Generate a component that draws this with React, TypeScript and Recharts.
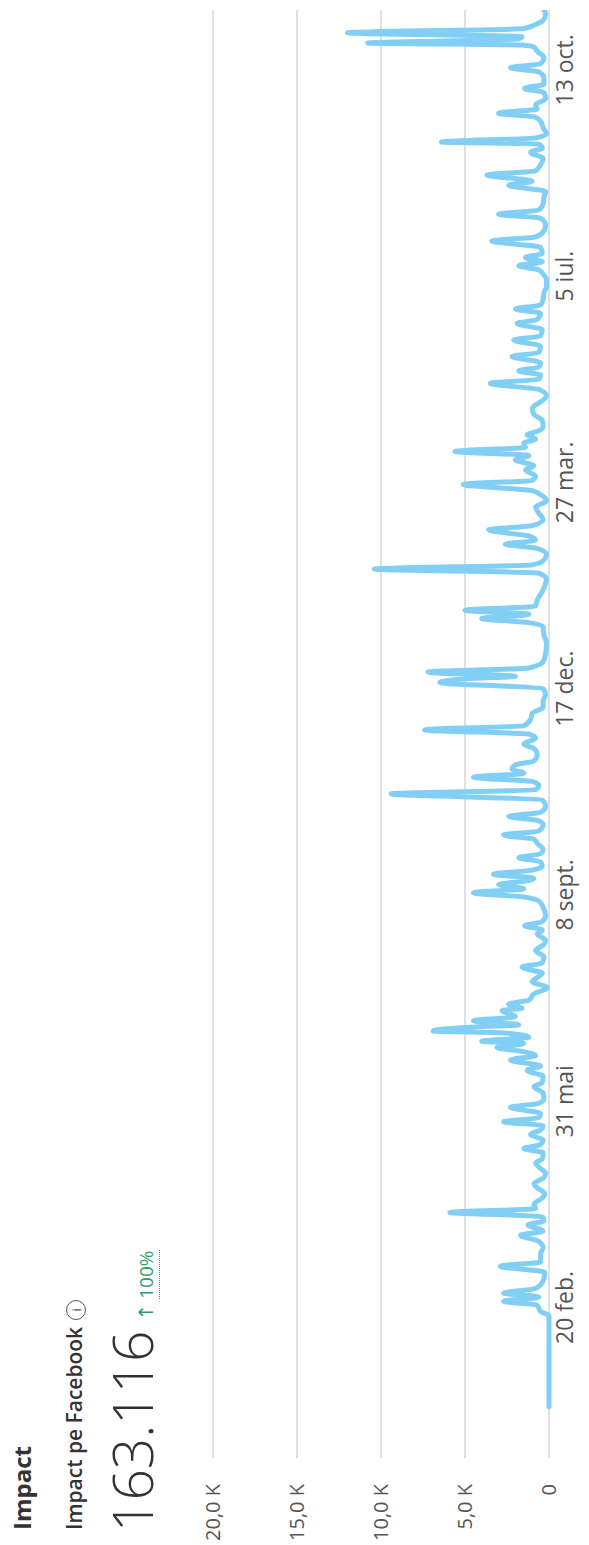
import { LineChart, Line, XAxis, YAxis, CartesianGrid } from 'recharts'

// day 0 = 20 feb.
const tickDays = [0, 100, 200, 300, 400, 500, 600]
const tickLabels = ['20 feb.', '31 mai', '8 sept.', '17 dec.', '27 mar.', '5 iul.', '13 oct.']
const valueTicks = [0, 5000, 10000, 15000, 20000]
const valueLabels = ['0', '5,0 K', '10,0 K', '15,0 K', '20,0 K']

const days = [
  -48, -4, -2, 1, 3, 5, 7, 9, 11, 14, 17, 20, 22, 26, 29, 32, 35, 37, 40, 42,
  44, 46, 48, 50, 53, 55, 58, 60, 63, 65, 68, 70, 72, 75, 77, 79, 81, 84, 86, 88,
  90, 92, 94, 97, 99, 101, 104, 107, 109, 112, 115, 117, 120, 122, 124, 126, 128, 129, 131, 133,
  134, 136, 137, 139, 141, 144, 145, 147, 149, 152, 155, 158, 160, 162, 165, 167, 170, 173, 176, 178,
  181, 183, 185, 187, 190, 194, 197, 199, 201, 203, 205, 207, 208, 210, 212, 214, 216, 218, 220, 222,
  225, 227, 229, 231, 234, 236, 238, 240, 243, 246, 249, 251, 253, 255, 257, 259, 261, 263, 265, 268,
  271, 273, 276, 278, 280, 282, 285, 288, 291, 294, 297, 300, 303, 305, 306, 308, 310, 313, 317, 322,
  326, 330, 332, 334, 336, 338, 340, 343, 347, 350, 353, 356, 358, 360, 362, 365, 368, 370, 372, 374,
  377, 379, 382, 385, 388, 391, 394, 396, 399, 401, 403, 406, 408, 411, 413, 415, 417, 419, 421, 423,
  425, 427, 430, 433, 436, 439, 442, 445, 448, 450, 452, 454, 456, 458, 461, 463, 466, 469, 471, 474,
  477, 479, 482, 484, 486, 489, 492, 495, 498, 501, 503, 505, 507, 509, 511, 514, 517, 519, 522, 525,
  528, 530, 532, 535, 538, 541, 544, 546, 549, 551, 554, 557, 560, 562, 564, 565, 567, 569, 572, 575,
  577, 579, 581, 583, 586, 589, 591, 593, 596, 599, 601, 603, 606, 609, 611, 612, 613, 615, 616, 618,
  620, 622, 624, 627, 629,
]

const impact = [
  0, 0, 500, 700, 2700, 600, 2700, 900, 500, 300, 250, 2900, 500, 500, 350, 600, 1700, 350, 1250, 300,
  400, 5900, 800, 900, 400, 250, 700, 900, 300, 200, 600, 800, 400, 350, 1500, 500, 350, 1100, 500, 350,
  2700, 600, 500, 2300, 600, 300, 350, 900, 400, 350, 1300, 500, 2300, 800, 1500, 3100, 1500, 4000, 1200, 2500,
  6900, 4400, 1800, 4500, 2000, 2800, 1600, 2400, 1200, 900, 100, 1000, 700, 400, 1600, 400, 300, 800, 300, 200,
  700, 400, 1450, 400, 200, 350, 600, 1500, 4500, 1500, 3000, 1200, 900, 3300, 1000, 400, 500, 1800, 500, 350,
  700, 900, 2700, 600, 350, 600, 2400, 500, 200, 400, 9400, 800, 600, 1000, 4500, 1500, 2200, 2000, 900, 700,
  900, 1500, 800, 1200, 7400, 1500, 1100, 1000, 350, 350, 200, 350, 6500, 4400, 2000, 7200, 1200, 350, 200, 150,
  300, 350, 1200, 4000, 1200, 5000, 800, 700, 400, 250, 150, 600, 10400, 1000, 350, 150, 700, 2600, 800, 1200,
  3600, 1000, 350, 600, 800, 150, 500, 1000, 5100, 1000, 800, 1400, 900, 2000, 1200, 5600, 1400, 1500, 800, 1300,
  600, 350, 400, 900, 1000, 500, 150, 600, 3500, 600, 500, 1800, 600, 500, 2200, 600, 500, 2100, 500, 400,
  1900, 700, 500, 2000, 500, 350, 300, 150, 150, 350, 600, 1800, 400, 1400, 400, 500, 3400, 800, 300, 200,
  500, 3000, 600, 350, 300, 200, 2400, 1000, 3700, 800, 500, 350, 1100, 400, 600, 6400, 800, 150, 350, 500,
  800, 3000, 700, 800, 200, 300, 1450, 300, 300, 600, 2300, 500, 300, 700, 900, 1600, 10800, 1800, 1600, 12000,
  1500, 800, 350, 200, 300,
]

const chartData = days.map((d, i) => ({ day: d, impact: impact[i] }))

const font = '"Open Sans", "Noto Sans", sans-serif'

export default function App() {
  return (
    <div style={{ position: 'absolute', left: 0, top: 0, width: 589, height: 1545, overflow: 'hidden', background: '#fff' }}>
      {/* the whole card is turned a quarter turn to the left */}
      <div
        style={{
          position: 'absolute',
          left: 0,
          top: 0,
          width: 1545,
          height: 589,
          transformOrigin: '0 0',
          transform: 'translate(0px, 1545px) rotate(-90deg)',
          fontFamily: font,
          color: '#333',
        }}
      >
        <div style={{ position: 'absolute', left: 15, top: 10, fontSize: 24, lineHeight: '24px', fontWeight: 700 }}>
          Impact
        </div>
        <div style={{ position: 'absolute', left: 15, top: 64, fontSize: 21, lineHeight: '21px', fontWeight: 600, whiteSpace: 'nowrap' }}>
          Impact pe Facebook
          <span
            style={{
              display: 'inline-block',
              marginLeft: 7,
              width: 18,
              height: 18,
              border: '1.5px solid #555',
              borderRadius: '50%',
              fontSize: 13,
              lineHeight: '18px',
              textAlign: 'center',
              fontWeight: 400,
              verticalAlign: 'middle',
              color: '#555',
            }}
          >
            i
          </span>
        </div>
        <div style={{ position: 'absolute', left: 13, top: 105, lineHeight: '54px', whiteSpace: 'nowrap' }}>
          <span style={{ fontSize: 55, fontWeight: 300, color: '#333' }}>163.116</span>
          <span style={{ fontSize: 19, color: '#2f9e6c', marginLeft: 10 }}>
            <span style={{ fontFamily: '"DejaVu Sans", sans-serif', fontSize: 20 }}>↑</span>{' '}
            <span style={{ borderBottom: '1.5px dotted #2f9e6c' }}>100%</span>
          </span>
        </div>

        <div style={{ position: 'absolute', left: 0, top: 0 }}>
          <LineChart width={1545} height={589} data={chartData} margin={{ top: 213, right: 10, bottom: 8, left: 0 }}>
            <CartesianGrid vertical={false} stroke="#e0e0e0" strokeWidth={2} />
            <XAxis
              type="number"
              dataKey="day"
              domain={[-73, 629]}
              ticks={tickDays}
              tickFormatter={(v: number) => tickLabels[tickDays.indexOf(v)]}
              axisLine={false}
              tickLine={false}
              height={32}
              allowDataOverflow
              tick={{ fill: '#555', fontSize: 23, fontFamily: font }}
            />
            <YAxis
              domain={[0, 20000]}
              ticks={valueTicks}
              tickFormatter={(v: number) => valueLabels[valueTicks.indexOf(v)]}
              axisLine={false}
              tickLine={false}
              width={87}
              tickMargin={20}
              tick={{ fill: '#555', fontSize: 20, fontFamily: font }}
            />
            <Line
              type="monotone"
              dataKey="impact"
              stroke="#82cff5"
              strokeWidth={5}
              strokeLinejoin="round"
              strokeLinecap="round"
              dot={false}
              isAnimationActive={false}
            />
          </LineChart>
        </div>
      </div>
    </div>
  )
}
